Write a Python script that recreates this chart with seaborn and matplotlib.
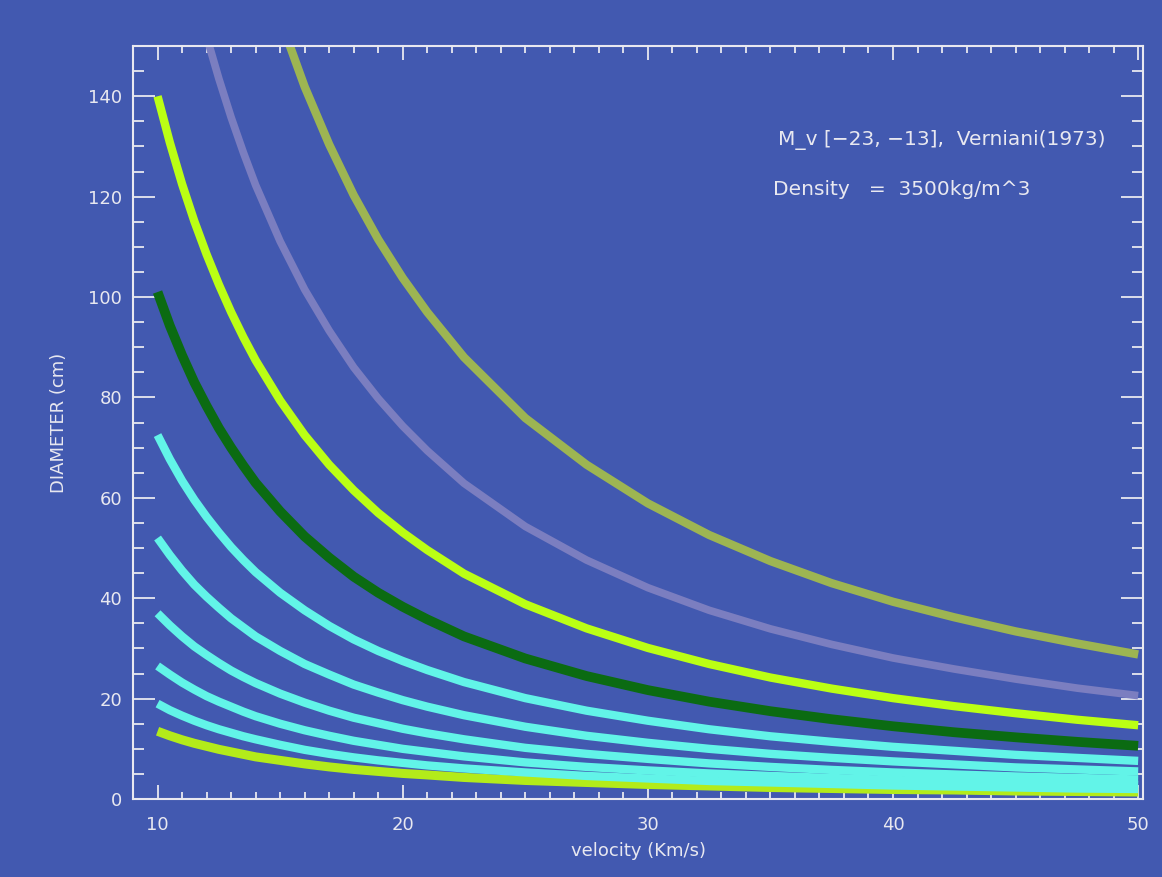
import matplotlib
matplotlib.use("Agg")
import matplotlib.pyplot as plt
import seaborn as sns
from matplotlib.ticker import MultipleLocator

# velocity samples (km/s)
velocity = [10, 10.5, 11, 11.5, 12, 12.5, 13, 13.5, 14, 15, 16, 17, 18, 19, 20, 21,
            22.5, 25, 27.5, 30, 32.5, 35, 37.5, 40, 42.5, 45, 47.5, 50]

# diameter (cm) per curve
d1 = [13.5, 12.6, 11.8, 11.1, 10.5, 9.9, 9.4, 8.9, 8.4, 7.7, 7.0, 6.4, 5.9, 5.5, 5.1, 4.8,
      4.3, 3.7, 3.3, 2.9, 2.6, 2.3, 2.1, 1.9, 1.8, 1.6, 1.5, 1.4]
d2 = [19.0, 17.7, 16.6, 15.6, 14.7, 13.9, 13.2, 12.5, 11.9, 10.8, 9.8, 9.0, 8.3, 7.7, 7.2, 6.7,
      6.1, 5.3, 4.6, 4.1, 3.6, 3.3, 3.0, 2.7, 2.5, 2.3, 2.1, 2.0]
d3 = [26.5, 24.8, 23.2, 21.8, 20.5, 19.4, 18.4, 17.4, 16.5, 15.0, 13.7, 12.6, 11.6, 10.8, 10.0, 9.4,
      8.5, 7.3, 6.4, 5.7, 5.1, 4.6, 4.2, 3.8, 3.5, 3.2, 3.0, 2.8]
d4 = [37.0, 34.6, 32.4, 30.4, 28.7, 27.1, 25.6, 24.3, 23.1, 21.0, 19.2, 17.6, 16.2, 15.1, 14.0, 13.1,
      11.9, 10.2, 9.0, 8.0, 7.1, 6.4, 5.8, 5.3, 4.9, 4.5, 4.2, 3.9]
d5 = [52.0, 48.6, 45.5, 42.7, 40.3, 38.1, 36.0, 34.2, 32.4, 29.5, 26.9, 24.8, 22.8, 21.2, 19.7, 18.4,
      16.7, 14.4, 12.6, 11.2, 10.0, 9.0, 8.2, 7.5, 6.9, 6.3, 5.9, 5.5]
d6 = [72.5, 67.7, 63.4, 59.6, 56.2, 53.1, 50.2, 47.6, 45.2, 41.1, 37.6, 34.5, 31.8, 29.5, 27.5, 25.7,
      23.3, 20.1, 17.6, 15.6, 13.9, 12.5, 11.4, 10.4, 9.6, 8.8, 8.2, 7.6]
d7 = [101, 94.3, 88.4, 83.0, 78.3, 73.9, 70.0, 66.4, 63.0, 57.3, 52.3, 48.1, 44.3, 41.1, 38.3, 35.8,
      32.4, 28.0, 24.5, 21.7, 19.4, 17.5, 15.9, 14.5, 13.3, 12.3, 11.4, 10.6]
d8 = [140, 130.8, 122.5, 115.1, 108.5, 102.5, 97.0, 92.0, 87.4, 79.4, 72.5, 66.6, 61.5, 57.0, 53.1, 49.6,
      44.9, 38.8, 34.0, 30.1, 26.9, 24.2, 22.0, 20.1, 18.5, 17.1, 15.8, 14.7]
d9 = [196, 183.1, 171.5, 161.1, 151.9, 143.5, 135.8, 128.8, 122.3, 111.1, 101.5, 93.3, 86.0, 79.8, 74.3, 69.4,
      62.9, 54.3, 47.6, 42.1, 37.6, 33.9, 30.8, 28.1, 25.9, 23.9, 22.1, 20.6]
d10 = [274, 255.9, 239.8, 225.2, 212.4, 200.6, 189.9, 180.0, 171.0, 155.4, 141.9, 130.4, 120.3, 111.5, 103.8, 97.0,
       88.0, 75.9, 66.6, 58.9, 52.6, 47.4, 43.0, 39.3, 36.2, 33.4, 31.0, 28.8]

curves = [d1, d2, d3, d4, d5, d6, d7, d8, d9, d10]
colors = ["#B3EB1A", "#62F4E8", "#62F4E8", "#62F4E8", "#62F4E8", "#62F4E8",
          "#0B6B12", "#BBFF14", "#7B7EC0", "#9DB552"]
widths = [6.5, 6.0, 6.0, 6.0, 6.0, 6.0, 7.0, 6.0, 5.5, 6.0]

bg = "#4259B0"
fg = "#E8E8F0"

sns.set_theme(style="white")
plt.rcParams["font.family"] = ["DejaVu Sans"]

fig = plt.figure(figsize=(11.62, 8.77), dpi=100, facecolor=bg)
ax = fig.add_axes([0.1145, 0.0889, 0.8692, 0.8586])
ax.set_facecolor(bg)

for d, c, w in zip(curves, colors, widths):
    sns.lineplot(x=velocity, y=d, color=c, linewidth=w, ax=ax,
                 solid_capstyle="butt", estimator=None, sort=False)

ax.set_xlim(9, 50.2)
ax.set_ylim(0, 150)

ax.xaxis.set_major_locator(MultipleLocator(10))
ax.xaxis.set_minor_locator(MultipleLocator(1))
ax.yaxis.set_major_locator(MultipleLocator(20))
ax.yaxis.set_minor_locator(MultipleLocator(5))

for s in ax.spines.values():
    s.set_color(fg)
    s.set_linewidth(1.5)
    s.set_visible(True)

ax.tick_params(axis="x", which="major", direction="in", length=10, width=1.3,
               color=fg, top=True, bottom=True, labelcolor=fg, labelsize=13, pad=12)
ax.tick_params(axis="x", which="minor", direction="in", length=5, width=1.3,
               color=fg, top=True, bottom=True)
ax.tick_params(axis="y", which="major", direction="in", length=16, width=1.3,
               color=fg, left=True, right=True, labelcolor=fg, labelsize=13, pad=8)
ax.tick_params(axis="y", which="minor", direction="in", length=8, width=1.3,
               color=fg, left=True, right=True)

ax.set_xlabel("velocity (Km/s)", color=fg, fontsize=13, labelpad=6)
ax.set_ylabel("DIAMETER (cm)", color=fg, fontsize=13, labelpad=14)

ax.text(0.639, 0.875, "M_v [\u221223, \u221213],  Verniani(1973)", transform=ax.transAxes,
        color=fg, fontsize=14.5, ha="left", va="center")
ax.text(0.634, 0.809, "Density   =  3500kg/m^3", transform=ax.transAxes,
        color=fg, fontsize=14.5, ha="left", va="center")

fig.savefig("out.png", dpi=100, facecolor=bg)
